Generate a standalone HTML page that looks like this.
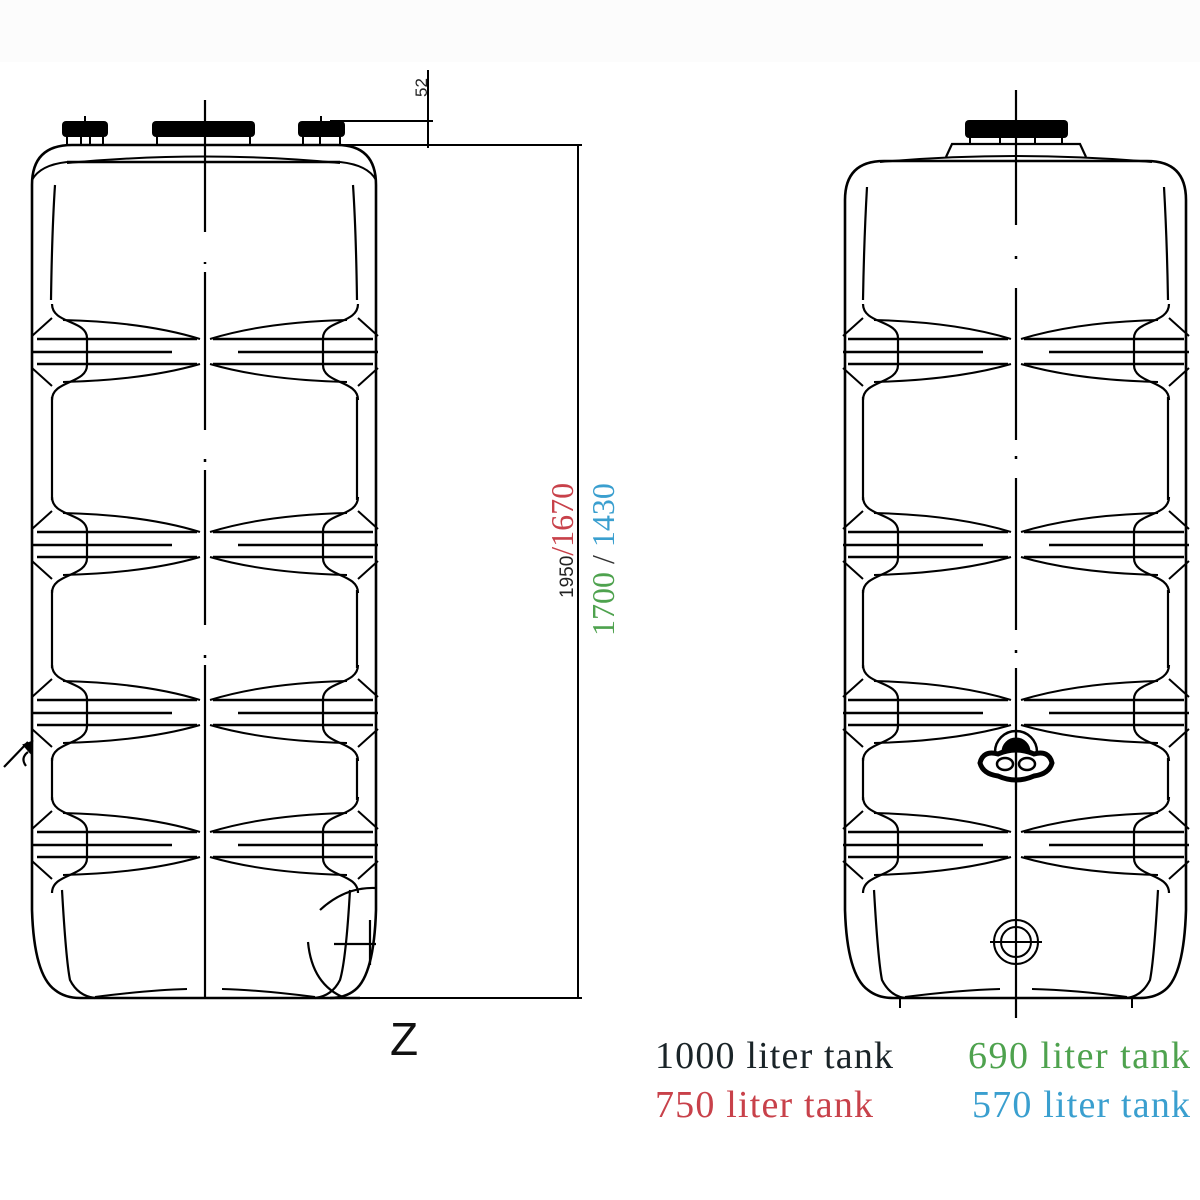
<!DOCTYPE html>
<html><head><meta charset="utf-8"><style>
html,body{margin:0;padding:0;background:#fff}
svg{display:block}
</style></head><body>
<svg width="1200" height="1200" viewBox="0 0 1200 1200" xmlns="http://www.w3.org/2000/svg">
<rect x="0" y="0" width="1200" height="62" fill="#fcfcfc"/>
<defs>
<g id="half" fill="none" stroke="#000" stroke-width="2.6">
  <path d="M-168,-13 H-8 M-173,0 H-33 M-168,12 H-8"/>
  <path d="M-153,-48 C-153,-28 -118,-32 -118,-14 V13 C-118,32 -153,28 -153,48" stroke-width="2.2"/>
  <path d="M-142,-32 Q-60,-30 -5,-13 M-142,30 Q-60,28 -5,12" stroke-width="2"/>
  <path d="M-173,-16 L-153,-34 M-173,16 L-153,34" stroke-width="2"/>
</g>
<g id="band">
  <use href="#half"/>
  <use href="#half" transform="scale(-1,1)"/>
</g>
</defs>

<g fill="none" stroke="#000" stroke-width="2.6">
  <path d="M32,910 V185 Q32,145 72,145 H337 Q376,145 376,185 V910"/>
  <path d="M32,910 Q34,975 55,990 Q65,998 80,998 H360"/>
  <path d="M376,910 Q374,975 355,990 Q345,998 330,998"/>
  <path d="M67,162 H340" />
  <path d="M67,163 Q205,150 340,163" stroke-width="2"/>
  <path d="M32,180 Q40,165 67,162 M376,180 Q368,165 340,162" stroke-width="2"/>
  <path d="M55,185 Q52,230 51,300 M353,185 Q356,230 357,300" stroke-width="2.2"/>
  <path d="M52,397 V500 M52,590 V668 M52,758 V800 M357,397 V500 M357,590 V668 M357,758 V800" stroke-width="2.2"/>
  <path d="M62,890 Q66,960 70,980 Q78,996 95,998 M350,890 Q346,960 340,980 Q332,996 315,998" stroke-width="2.2"/>
  <path d="M95,997 Q150,990 187,989 M315,997 Q260,990 222,989" stroke-width="2"/>
  <path d="M205,100 V232 M205,272 V430 M205,470 V625 M205,665 V998" stroke-width="2.2"/>
  <path d="M205,262 V264 M205,459 V462 M205,655 V658" stroke-width="2.5"/>
</g>
<use href="#band" transform="translate(205,352)"/>
<use href="#band" transform="translate(205,545)"/>
<use href="#band" transform="translate(205,713)"/>
<use href="#band" transform="translate(205,845)"/>
<g fill="#000">
  <rect x="62" y="121" width="46" height="16" rx="4"/>
  <rect x="152" y="121" width="103" height="16" rx="4"/>
  <rect x="298" y="121" width="47" height="16" rx="4"/>
</g>
<g stroke="#000" stroke-width="2" fill="none">
  <path d="M67,137 V145 M81,137 V145 M90,137 V145 M103,137 V145 M157,137 V145 M250,137 V145 M303,137 V145 M320,137 V145 M340,137 V145"/>
  <path d="M85,116 V123 M321,116 V123"/>
</g>
<g fill="none" stroke="#000" stroke-width="2.2">
  <path d="M4,767 L28,742"/>
  <path d="M24,745 L32,742 L30,752 Z" fill="#000"/>
  <path d="M28,752 Q20,758 26,766"/>
  <path d="M320,910 Q345,887 375,888"/>
  <path d="M308,942 Q312,985 345,998"/>
  <path d="M334,944 H376 M370,920 V965" />
</g>

<g stroke="#000" stroke-width="2" fill="none">
  <path d="M578,145 V998"/>
  <path d="M340,145 H582 M335,998 H582"/>
  <path d="M428,70 V148 M330,121 H433"/>
</g>
<text transform="translate(427,97) rotate(-90)" font-family="Liberation Sans, sans-serif" font-size="17" fill="#222">52</text>
<text transform="translate(573,598) rotate(-90)" font-family="Liberation Sans, sans-serif" font-size="19" fill="#222">1950<tspan font-family="Liberation Serif, serif" font-size="32" fill="#c8414a">/1670</tspan></text>
<text transform="translate(614,636) rotate(-90)" font-family="Liberation Serif, serif" font-size="32"><tspan fill="#4ea24e">1700</tspan><tspan fill="#333"> / </tspan><tspan fill="#3a9fcf">1430</tspan></text>
<text x="390" y="1055" font-family="Liberation Sans, sans-serif" font-size="46" fill="#111">Z</text>

<g fill="none" stroke="#000" stroke-width="2.6">
  <path d="M845,910 V200 Q845,161 884,161 H1147 Q1186,161 1186,200 V910"/>
  <path d="M845,910 Q847,975 868,990 Q878,998 893,998 H1140"/>
  <path d="M1186,910 Q1184,975 1165,990 Q1155,998 1140,998"/>
  <path d="M880,162 Q1016,150 1152,162" stroke-width="2"/>
  <path d="M946,157 L952,144 H1080 L1086,157" stroke-width="2.2"/>
  <path d="M867,187 Q864,240 863,300 M1164,187 Q1167,240 1168,300" stroke-width="2.2"/>
  <path d="M863,397 V500 M863,590 V668 M863,758 V800 M1168,397 V500 M1168,590 V668 M1168,758 V800" stroke-width="2.2"/>
  <path d="M874,890 Q878,960 882,980 Q890,996 905,998 M1158,890 Q1154,960 1150,980 Q1142,996 1127,998" stroke-width="2.2"/>
  <path d="M905,997 Q960,990 1000,989 M1127,997 Q1075,990 1032,989" stroke-width="2"/>
  <path d="M900,998 V1008 M1132,998 V1008" stroke-width="2"/>
  <path d="M1016,90 V225 M1016,288 V440 M1016,478 V630 M1016,668 V1018" stroke-width="2.2"/>
  <path d="M1016,256 V259 M1016,456 V459 M1016,650 V653" stroke-width="2.5"/>
</g>
<use href="#band" transform="translate(1016,352)"/>
<use href="#band" transform="translate(1016,545)"/>
<use href="#band" transform="translate(1016,713)"/>
<use href="#band" transform="translate(1016,845)"/>
<rect x="965" y="120" width="103" height="18" rx="4" fill="#000"/>
<g stroke="#000" stroke-width="2"><path d="M970,138 V144 M1000,138 V144 M1035,138 V144 M1062,138 V144"/></g>
<g stroke="#000" fill="none">
  <path d="M995,752 A21,21 0 0 1 1037,752" stroke-width="2.5"/>
  <path d="M1002,752 A14,14 0 0 1 1030,752 Z" fill="#000"/>
  <path d="M980,763 Q983,750 998,754 Q1016,746 1034,754 Q1049,750 1052,763 Q1049,774 1034,776 Q1016,784 998,776 Q983,774 980,763 Z" stroke-width="5"/>
  <ellipse cx="1005" cy="764" rx="8" ry="6" stroke-width="2.5"/>
  <ellipse cx="1027" cy="764" rx="8" ry="6" stroke-width="2.5"/>
  <path d="M1016,730 V790" stroke-width="2.2"/>
</g>
<g stroke="#000" fill="none" stroke-width="2">
  <circle cx="1016" cy="942" r="22"/>
  <circle cx="1016" cy="942" r="15"/>
  <path d="M990,942 H1042"/>
</g>

<g font-family="Liberation Serif, serif" font-size="38">
  <text x="655" y="1068" fill="#1a2428" textLength="238">1000 liter tank</text>
  <text x="655" y="1117" fill="#c8414a" textLength="218">750 liter tank</text>
  <text x="968" y="1068" fill="#4ea24e" textLength="222">690 liter tank</text>
  <text x="972" y="1117" fill="#3a9fcf" textLength="218">570 liter tank</text>
</g>
</svg>
</body></html>
